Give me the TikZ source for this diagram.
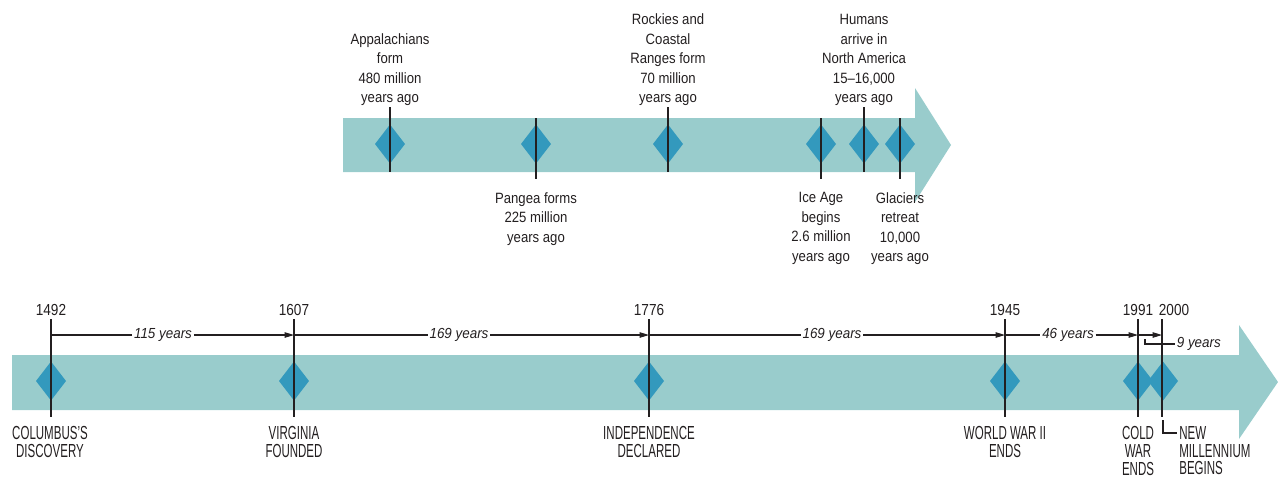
\documentclass[tikz,border=0pt]{standalone}
\usepackage{fontspec}
\setmainfont{Liberation Sans}
\newfontfamily\lblfont{Liberation Sans}[FakeStretch=0.88]
\newfontfamily\yearfont{Liberation Sans}[FakeStretch=0.85]
\newfontfamily\capfont{Liberation Sans}[FakeStretch=0.61]
\newfontfamily\spanfont{Liberation Sans}[FakeStretch=0.92]
\usetikzlibrary{arrows.meta}
\definecolor{bandcol}{RGB}{153,204,204}
\definecolor{gemcol}{RGB}{51,153,189}
\definecolor{inkcol}{RGB}{35,31,32}
\newcommand\gemat[2]{\fill[gemcol] (#1,#2) ++(-15,0) -- ++(15,19.5) -- ++(15,-19.5) -- ++(-15,-19.5) -- cycle;}
\begin{document}
\begin{tikzpicture}[x=0.02cm,y=-0.02cm,
  bandshape/.style={fill=bandcol},
  tick/.style={line width=1.1pt, draw=inkcol},
  spanline/.style={line width=0.6pt, draw=inkcol},
  spanarrow/.style={spanline,-{Triangle[length=0.19cm,width=0.11cm]}},
  toplbl/.style={font=\lblfont\fontsize{8.5pt}{11.1pt}\selectfont, align=center, inner sep=0pt, text=inkcol},
  yearlbl/.style={font=\yearfont\fontsize{9.1pt}{11pt}\selectfont, inner sep=0pt, text=inkcol},
  spanlbl/.style={font=\spanfont\itshape\fontsize{8.3pt}{10pt}\selectfont, inner xsep=0.03cm, inner ysep=0pt, text=inkcol},
  caplbl/.style={font=\capfont\fontsize{10.75pt}{10.1pt}\selectfont, align=center, inner sep=0pt, text=inkcol}
]
\useasboundingbox (0,0) rectangle (1278,478);

% ---------- top arrow ----------
\fill[bandshape] (343,118) -- (915,118) -- (915,88) -- (951,145) -- (915,202) -- (915,172) -- (343,172) -- cycle;
\gemat{390}{144}
\gemat{536}{144}
\gemat{668}{144}
\gemat{821}{144}
\gemat{864}{144}
\gemat{900}{144}

\coordinate (ta1) at (390,107); \coordinate (ta2) at (390,172);
\coordinate (tb1) at (536,118); \coordinate (tb2) at (536,179);
\coordinate (tc1) at (668,107); \coordinate (tc2) at (668,172);
\coordinate (td1) at (821,118); \coordinate (td2) at (821,179);
\coordinate (te1) at (864,107); \coordinate (te2) at (864,172);
\coordinate (tf1) at (900,118); \coordinate (tf2) at (900,179);
\draw[tick] (ta1) -- (ta2);
\draw[tick] (tb1) -- (tb2);
\draw[tick] (tc1) -- (tc2);
\draw[tick] (td1) -- (td2);
\draw[tick] (te1) -- (te2);
\draw[tick] (tf1) -- (tf2);

\node[toplbl, anchor=south] (lapp) at (390,106) {Appalachians\\form\\480 million\\years ago};
\node[toplbl, anchor=south] (lroc) at (668,106) {Rockies and\\Coastal\\Ranges form\\70 million\\years ago};
\node[toplbl, anchor=south] (lhum) at (864,106) {Humans\\arrive in\\North America\\15–16,000\\years ago};
\node[toplbl, anchor=north] (lpan) at (536,192) {Pangea forms\\225 million\\years ago};
\node[toplbl, anchor=north] (lice) at (821,192) {Ice Age\\begins\\2.6 million\\years ago};
\node[toplbl, anchor=north] (lgla) at (900,192) {Glaciers\\retreat\\10,000\\years ago};

% ---------- bottom arrow ----------
\fill[bandshape] (12,355) -- (1239,355) -- (1239,325) -- (1278,382) -- (1239,439) -- (1239,410) -- (12,410) -- cycle;
\gemat{51}{381}
\gemat{294}{381}
\gemat{649}{381}
\gemat{1005}{381}
\gemat{1138}{381}
\gemat{1163}{381}

\coordinate (c1492) at (51,319);   \coordinate (d1492) at (51,417);
\coordinate (c1607) at (294,319);  \coordinate (d1607) at (294,417);
\coordinate (c1776) at (649,319);  \coordinate (d1776) at (649,417);
\coordinate (c1945) at (1005,319); \coordinate (d1945) at (1005,417);
\coordinate (c1991) at (1138,319); \coordinate (d1991) at (1138,417);
\coordinate (c2000) at (1162,319); \coordinate (d2000) at (1162,417);
\draw[tick] (c1492) -- (d1492);
\draw[tick] (c1607) -- (d1607);
\draw[tick] (c1776) -- (d1776);
\draw[tick] (c1945) -- (d1945);
\draw[tick] (c1991) -- (d1991);
\draw[tick] (c2000) -- (d2000);

\node[yearlbl, anchor=base] (y1492) at (51,315) {1492};
\node[yearlbl, anchor=base] (y1607) at (294,315) {1607};
\node[yearlbl, anchor=base] (y1776) at (649,315) {1776};
\node[yearlbl, anchor=base] (y1945) at (1005,315) {1945};
\node[yearlbl, anchor=base] (y1991) at (1138,315) {1991};
\node[yearlbl, anchor=base] (y2000) at (1174,315) {2000};

% spans
\node[spanlbl] (s1) at (163,335) {115 years};
\node[spanlbl] (s2) at (459,335) {169 years};
\node[spanlbl] (s3) at (832,335) {169 years};
\node[spanlbl] (s4) at (1068,335) {46 years};
\draw[spanline] (c1492 |- s1) -- (s1.west);
\draw[spanarrow] (s1.east) -- (c1607 |- s1);
\draw[spanline] (c1607 |- s2) -- (s2.west);
\draw[spanarrow] (s2.east) -- (c1776 |- s2);
\draw[spanline] (c1776 |- s3) -- (s3.west);
\draw[spanarrow] (s3.east) -- (c1945 |- s3);
\draw[spanline] (c1945 |- s4) -- (s4.west);
\draw[spanarrow] (s4.east) -- (c1991 |- s4);
\draw[spanarrow] (c1991 |- s4) -- (c2000 |- s4);
\node[spanlbl, anchor=west] (s5) at (1175,344) {9 years};
\coordinate (n9) at (1145,339);
\draw[spanline] (n9) -- (n9 |- s5) -- (s5.west);

% bottom labels
\node[caplbl, anchor=north] (lcol) at (50,426) {COLUMBUS’S\\DISCOVERY};
\node[caplbl, anchor=north] (lvir) at (294,426) {VIRGINIA\\FOUNDED};
\node[caplbl, anchor=north] (lind) at (649,426) {INDEPENDENCE\\DECLARED};
\node[caplbl, anchor=north] (lww) at (1005,426) {WORLD WAR II\\ENDS};
\node[caplbl, anchor=north] (lcw) at (1138,426) {COLD\\WAR\\ENDS};
\node[caplbl, anchor=north west, align=left] (lnew) at (1179,426) {NEW\\MILLENNIUM\\BEGINS};
\coordinate (m1) at (1163,420);
\coordinate (m2) at (1163,433);
\coordinate (m3) at (1177,433);
\draw[spanline] (m1) -- (m2) -- (m3);
\end{tikzpicture}
\end{document}
